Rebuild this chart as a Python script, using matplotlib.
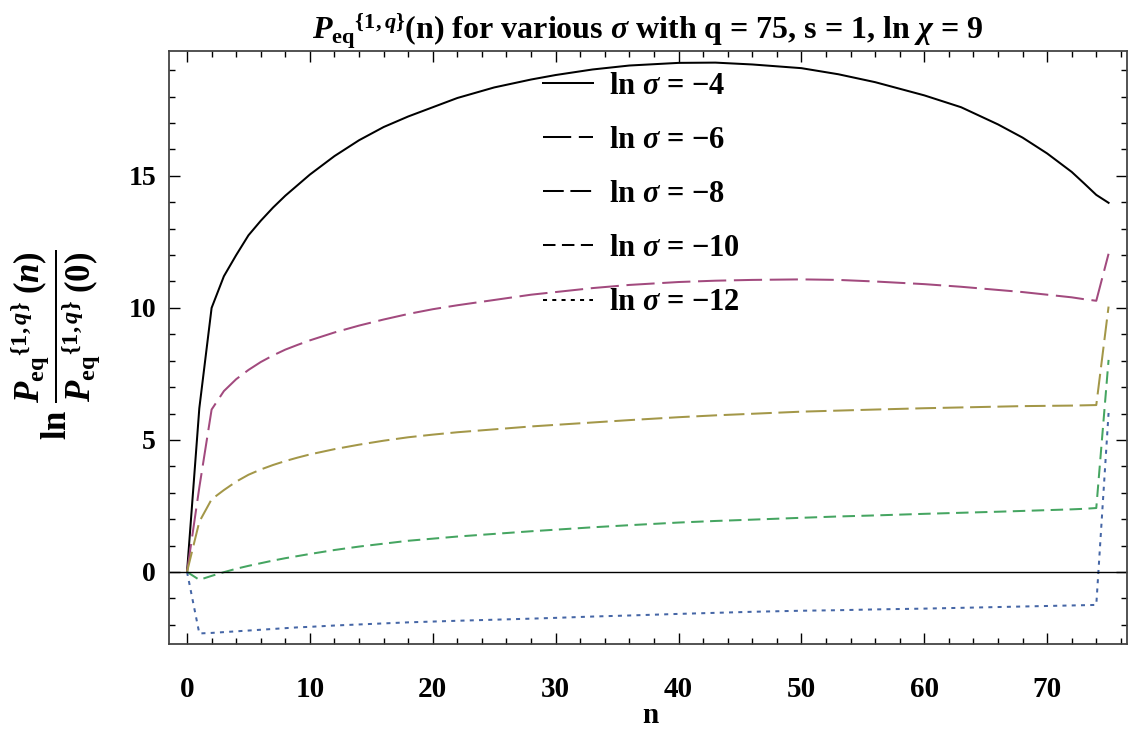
import matplotlib
matplotlib.use('Agg')
import matplotlib.pyplot as plt
from matplotlib.lines import Line2D
from matplotlib.ticker import MultipleLocator

plt.rcParams['font.family'] = ['Liberation Serif', 'DejaVu Serif']
plt.rcParams['font.weight'] = 'bold'
plt.rcParams['mathtext.fontset'] = 'custom'
plt.rcParams['mathtext.rm'] = 'Liberation Serif:bold'
plt.rcParams['mathtext.it'] = 'Liberation Serif:italic:bold'
plt.rcParams['mathtext.bf'] = 'Liberation Serif:bold'

# data
n = [0, 1, 2, 3, 4, 5, 6, 7, 8, 9, 10, 12, 14, 16, 18, 20, 22, 25, 28, 30, 33, 36, 40,
     43, 46, 50, 53, 56, 60, 63, 66, 68, 70, 72, 73, 74, 75]
ln_sigma_4 = [0, 6.2, 10.0, 11.2, 12.0, 12.75, 13.3, 13.8, 14.25, 14.65, 15.05, 15.75, 16.35,
              16.85, 17.25, 17.6, 17.95, 18.35, 18.65, 18.82, 19.03, 19.18, 19.28, 19.29, 19.22,
              19.08, 18.85, 18.55, 18.05, 17.6, 16.95, 16.45, 15.85, 15.15, 14.72, 14.28, 13.98]
ln_sigma_6 = [0, 3.2, 6.15, 6.85, 7.3, 7.65, 7.95, 8.2, 8.42, 8.6, 8.77, 9.07, 9.33, 9.56, 9.77,
              9.95, 10.1, 10.3, 10.5, 10.6, 10.75, 10.87, 10.98, 11.03, 11.06, 11.08, 11.06, 11.0,
              10.9, 10.8, 10.68, 10.6, 10.5, 10.4, 10.33, 10.27, 12.05]
ln_sigma_8 = [0, 1.9, 2.75, 3.1, 3.42, 3.68, 3.88, 4.05, 4.2, 4.33, 4.45, 4.65, 4.82, 4.97, 5.1,
              5.2, 5.29, 5.4, 5.51, 5.57, 5.66, 5.75, 5.86, 5.93, 5.99, 6.07, 6.11, 6.15, 6.2,
              6.23, 6.26, 6.28, 6.29, 6.3, 6.31, 6.32, 10.05]
ln_sigma_10 = [0, -0.3, -0.15, -0.01, 0.12, 0.23, 0.33, 0.43, 0.52, 0.6, 0.68, 0.83, 0.96, 1.07,
               1.18, 1.26, 1.34, 1.44, 1.54, 1.6, 1.69, 1.77, 1.87, 1.93, 1.98, 2.05, 2.1, 2.14,
               2.2, 2.24, 2.28, 2.31, 2.34, 2.37, 2.39, 2.42, 8.03]
ln_sigma_12 = [0, -2.33, -2.31, -2.28, -2.25, -2.22, -2.19, -2.16, -2.13, -2.1, -2.08, -2.03,
               -1.99, -1.95, -1.91, -1.88, -1.85, -1.81, -1.77, -1.74, -1.69, -1.65, -1.59, -1.55,
               -1.51, -1.47, -1.45, -1.42, -1.39, -1.36, -1.33, -1.31, -1.29, -1.27, -1.26, -1.25,
               6.02]
labels = ['ln $\\sigma$ = \u22124', 'ln $\\sigma$ = \u22126', 'ln $\\sigma$ = \u22128',
          'ln $\\sigma$ = \u221210', 'ln $\\sigma$ = \u221212']

series = [ln_sigma_4, ln_sigma_6, ln_sigma_8, ln_sigma_10, ln_sigma_12]
colors = ['black', '#A24A7E', '#A39748', '#45A561', '#4566A6']
styles = ['-', (0, (14, 3.8)), (0, (10.3, 3.3)), (0, (6.2, 3.2)), (0, (2.0, 2.6))]

fig = plt.figure(figsize=(11.29, 7.29), dpi=100)
ax = fig.add_axes([168.6 / 1129, 1 - 644 / 729, (1127 - 168.6) / 1129, (644 - 51) / 729])

for vals, c, ls in zip(series, colors, styles):
    ax.plot(n, vals, color=c, linestyle=ls, linewidth=1.45)

ax.axhline(0, color='black', linewidth=1.0)
ax.set_xlim(-1.5, 76.5)
ax.set_ylim(-2.73, 19.73)

ax.xaxis.set_major_locator(MultipleLocator(10))
ax.xaxis.set_minor_locator(MultipleLocator(2))
ax.yaxis.set_major_locator(MultipleLocator(5))
ax.yaxis.set_minor_locator(MultipleLocator(1))
ax.tick_params(which='both', direction='in', top=True, right=True, width=1)
ax.tick_params(which='major', length=8)
ax.tick_params(which='minor', length=4.5)
ax.tick_params(axis='x', labelsize=21, pad=23)
ax.tick_params(axis='y', labelsize=20, pad=9)
for sp in ax.spines.values():
    sp.set_linewidth(1.3)
    sp.set_color('#444444')

ax.set_xlabel('n', fontsize=21, fontweight='bold', va='baseline')
ax.xaxis.set_label_coords(0.503, -0.1325)
ax.set_ylabel(r'ln $\dfrac{P_{\mathrm{eq}}{}^{\{1,q\}}\;(n)}{P_{\mathrm{eq}}{}^{\{1,q\}}\;(0)}$',
              fontsize=25, fontweight='bold')
ax.yaxis.set_label_coords(-0.07, 0.505)
ax.set_title(r'$P_{\mathrm{eq}}{}^{\{1,q\}}$(n) for various $\sigma$ with q = 75, s = 1, ln $\chi$ = 9',
             fontsize=23, fontweight='bold', pad=6)

handles = [Line2D([0], [0], color='black', linestyle=ls, linewidth=1.45) for ls in styles]
ax.legend(handles, labels, loc='upper left', bbox_to_anchor=(543 / 1129, 1 - 72 / 729),
          bbox_transform=fig.transFigure, frameon=False, fontsize=22, handlelength=1.65,
          handletextpad=0.5, labelspacing=0.82, borderpad=0, borderaxespad=0)

fig.savefig('out.png', dpi=100)
